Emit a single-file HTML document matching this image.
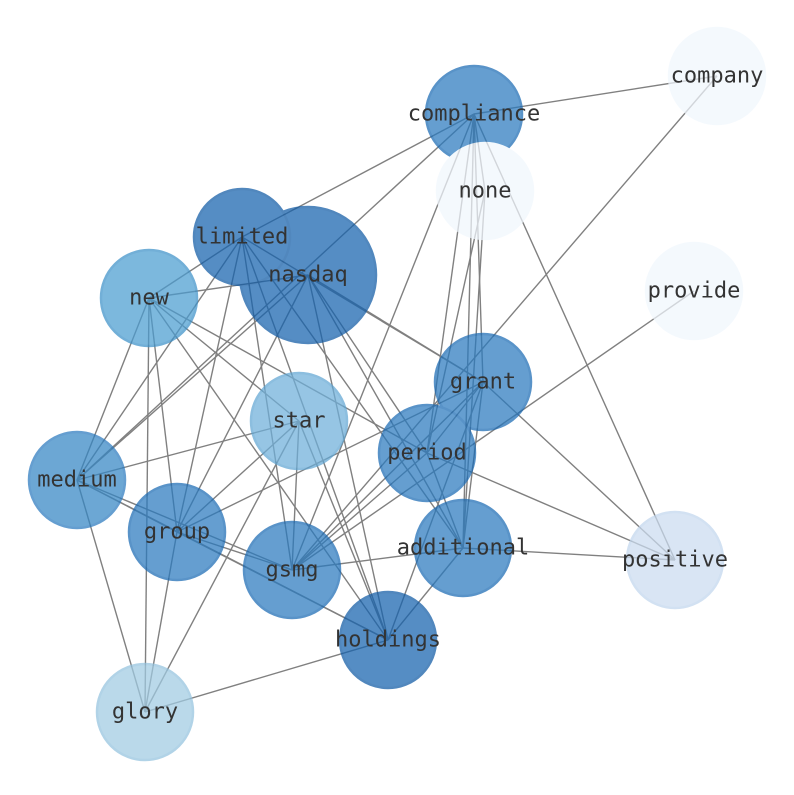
<!DOCTYPE html>
<html><head><style>body{margin:0;background:#fff}</style></head><body>
<svg width="794" height="790" xmlns="http://www.w3.org/2000/svg">
<g stroke="#808080" stroke-width="1.4">
<line x1="474" y1="114" x2="717" y2="76"/>
<line x1="474" y1="114" x2="242" y2="237"/>
<line x1="474" y1="114" x2="77" y2="480"/>
<line x1="474" y1="114" x2="427" y2="453"/>
<line x1="474" y1="114" x2="483" y2="382"/>
<line x1="474" y1="114" x2="463" y2="548"/>
<line x1="474" y1="114" x2="292" y2="570"/>
<line x1="474" y1="114" x2="675" y2="560"/>
<line x1="474" y1="114" x2="485" y2="191"/>
<line x1="717" y1="76" x2="292" y2="570"/>
<line x1="485" y1="191" x2="427" y2="453"/>
<line x1="485" y1="191" x2="463" y2="548"/>
<line x1="694" y1="291" x2="292" y2="570"/>
<line x1="242" y1="237" x2="149" y2="298"/>
<line x1="242" y1="237" x2="177" y2="532"/>
<line x1="242" y1="237" x2="292" y2="570"/>
<line x1="242" y1="237" x2="388" y2="640"/>
<line x1="242" y1="237" x2="77" y2="480"/>
<line x1="242" y1="237" x2="483" y2="382"/>
<line x1="242" y1="237" x2="463" y2="548"/>
<line x1="308" y1="275" x2="149" y2="298"/>
<line x1="308" y1="275" x2="77" y2="480"/>
<line x1="308" y1="275" x2="483" y2="382"/>
<line x1="308" y1="275" x2="427" y2="453"/>
<line x1="308" y1="275" x2="463" y2="548"/>
<line x1="308" y1="275" x2="388" y2="640"/>
<line x1="308" y1="275" x2="177" y2="532"/>
<line x1="149" y1="298" x2="299" y2="421"/>
<line x1="149" y1="298" x2="77" y2="480"/>
<line x1="149" y1="298" x2="177" y2="532"/>
<line x1="149" y1="298" x2="145" y2="712"/>
<line x1="149" y1="298" x2="388" y2="640"/>
<line x1="149" y1="298" x2="427" y2="453"/>
<line x1="299" y1="421" x2="77" y2="480"/>
<line x1="299" y1="421" x2="177" y2="532"/>
<line x1="299" y1="421" x2="292" y2="570"/>
<line x1="299" y1="421" x2="388" y2="640"/>
<line x1="299" y1="421" x2="145" y2="712"/>
<line x1="483" y1="382" x2="292" y2="570"/>
<line x1="483" y1="382" x2="177" y2="532"/>
<line x1="483" y1="382" x2="675" y2="560"/>
<line x1="483" y1="382" x2="388" y2="640"/>
<line x1="483" y1="382" x2="463" y2="548"/>
<line x1="483" y1="382" x2="427" y2="453"/>
<line x1="427" y1="453" x2="675" y2="560"/>
<line x1="427" y1="453" x2="292" y2="570"/>
<line x1="427" y1="453" x2="463" y2="548"/>
<line x1="77" y1="480" x2="177" y2="532"/>
<line x1="77" y1="480" x2="292" y2="570"/>
<line x1="77" y1="480" x2="388" y2="640"/>
<line x1="77" y1="480" x2="145" y2="712"/>
<line x1="177" y1="532" x2="292" y2="570"/>
<line x1="177" y1="532" x2="145" y2="712"/>
<line x1="177" y1="532" x2="388" y2="640"/>
<line x1="463" y1="548" x2="675" y2="560"/>
<line x1="463" y1="548" x2="292" y2="570"/>
<line x1="463" y1="548" x2="388" y2="640"/>
<line x1="388" y1="640" x2="145" y2="712"/>
</g>
<g stroke-width="2.5" opacity="0.72">
<circle cx="717" cy="76" r="48" fill="#f1f7fd" stroke="#f1f7fd"/>
<circle cx="474" cy="114" r="48" fill="#2a7abf" stroke="#1a6ab4"/>
<circle cx="485" cy="191" r="48" fill="#f1f7fd" stroke="#f1f7fd"/>
<circle cx="694" cy="291" r="48" fill="#f1f7fd" stroke="#f1f7fd"/>
<circle cx="308" cy="275" r="68" fill="#1562ae" stroke="#0f5aa5"/>
<circle cx="242" cy="237" r="48" fill="#1562ae" stroke="#0f5aa5"/>
<circle cx="149" cy="298" r="48" fill="#4b9dd1" stroke="#3d91c9"/>
<circle cx="483" cy="382" r="48" fill="#2a7abf" stroke="#1a6ab4"/>
<circle cx="299" cy="421" r="48" fill="#6fb0da" stroke="#60a6d4"/>
<circle cx="427" cy="453" r="48" fill="#2a7abf" stroke="#1a6ab4"/>
<circle cx="77" cy="480" r="48" fill="#3486c4" stroke="#2a7abf"/>
<circle cx="177" cy="532" r="48" fill="#2a7abf" stroke="#1a6ab4"/>
<circle cx="463" cy="548" r="48" fill="#2a7abf" stroke="#1a6ab4"/>
<circle cx="675" cy="560" r="48" fill="#cbdcf0" stroke="#c2d6ee"/>
<circle cx="292" cy="570" r="48" fill="#2a7abf" stroke="#1a6ab4"/>
<circle cx="388" cy="640" r="48" fill="#1562ae" stroke="#0f5aa5"/>
<circle cx="145" cy="712" r="48" fill="#a0cbe3" stroke="#94c3df"/>
</g>
<g font-family="'DejaVu Sans Mono','Liberation Mono',monospace" font-size="22" fill="#333" text-anchor="middle" dominant-baseline="central">
<text x="717" y="76">company</text>
<text x="474" y="114">compliance</text>
<text x="485" y="191">none</text>
<text x="694" y="291">provide</text>
<text x="308" y="275">nasdaq</text>
<text x="242" y="237">limited</text>
<text x="149" y="298">new</text>
<text x="483" y="382">grant</text>
<text x="299" y="421">star</text>
<text x="427" y="453">period</text>
<text x="77" y="480">medium</text>
<text x="177" y="532">group</text>
<text x="463" y="548">additional</text>
<text x="675" y="560">positive</text>
<text x="292" y="570">gsmg</text>
<text x="388" y="640">holdings</text>
<text x="145" y="712">glory</text>
</g>
</svg>
</body></html>
